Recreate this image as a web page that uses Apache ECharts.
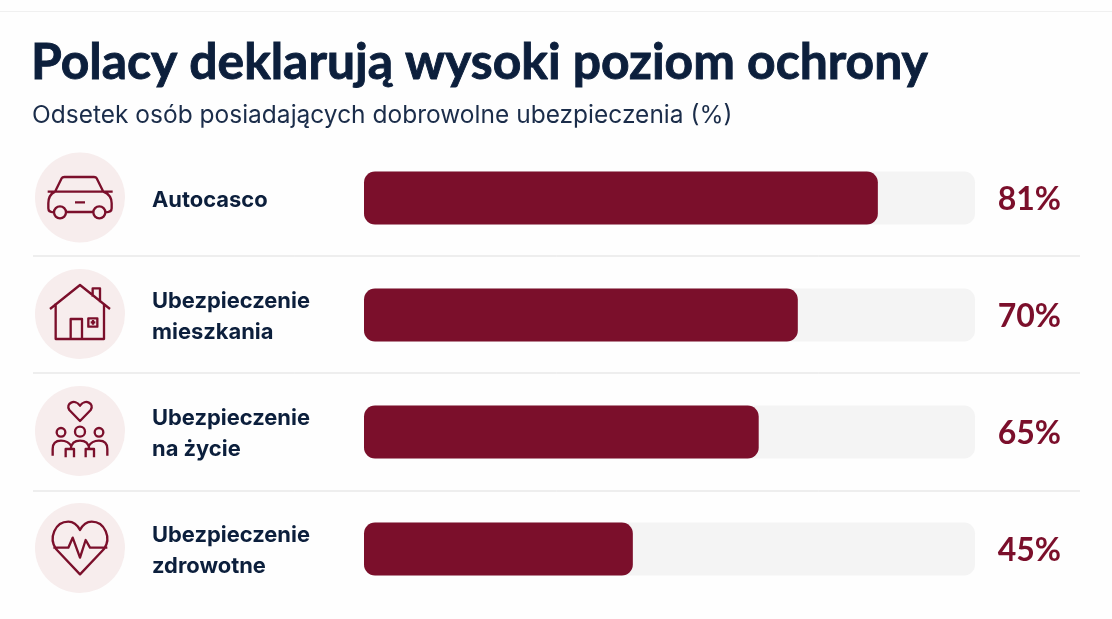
<!DOCTYPE html>
<html><head><meta charset="utf-8">
<style>html,body{margin:0;padding:0;background:#fefefe}#c{width:1112px;height:619px}</style>
<script src="https://cdn.jsdelivr.net/npm/echarts@6/dist/echarts.min.js"></script>
</head><body><div id="c"></div>
<script>
const categories = ['Autocasco', 'Ubezpieczenie\nmieszkania', 'Ubezpieczenie\nna życie', 'Ubezpieczenie\nzdrowotne'];
const percentLabels = [81, 70, 65, 45];
// bar lengths as drawn in the picture, in % of the grey track
const drawnLengths = [84.1, 71, 64.6, 44];
const trackValues = [100, 100, 100, 100];
const titleText = 'Polacy deklarują wysoki poziom ochrony';
const subtitleText = 'Odsetek osób posiadających dobrowolne ubezpieczenia (%)';

const ink = '#0c1f3c', wine = '#7b0f2b', FONT = 'Inter, "Open Sans", sans-serif';
const circle = (x, y, r) => `M${x - r},${y}A${r},${r} 0 1 0 ${x + r},${y}A${r},${r} 0 1 0 ${x - r},${y}Z`;
const icons = [
  {cy: 197.5, ox: 20, oy: 140, d: 'M105,155L125,115Q127,111 133,111H222Q228,111 230,115L250,155M83,155H278M105,155Q85,165 85,190V205Q85,217 101,217M250,155Q275,165 275,190V205Q275,217 257,217M140,216H218M165,187H195' + circle(120, 217, 18) + circle(238, 217, 18)},
  {cy: 314, ox: 20, oy: 140, d: 'M90,507L180,435L270,507M107,490V597H252V490M152,597V537H186V597M205,535H232V560H205ZM212,547H226M219,540V554M218,470V445H240V487'},
  {cy: 431, ox: 20, oy: 375, d: 'M180,138L148,105C135,85 165,70 180,92C195,70 225,85 212,105Z' + circle(123, 172, 13) + circle(180, 170, 15) + circle(237, 172, 13) + 'M98,242V222Q98,197 123,197Q145,197 155,215M152,222Q155,197 180,197Q205,197 208,222M205,215Q215,197 237,197Q262,197 262,222V242M137,247V222H162V247M197,247V222H222V247'},
  {cy: 548, ox: 20, oy: 375, d: 'M180,598L108,522C85,490 105,440 145,440C160,440 172,450 180,465C188,450 200,440 215,440C255,440 275,490 252,522ZM100,518H145L158,488L180,548L197,495L210,518H262'}
];
icons.forEach((ic, i) => echarts.graphic.registerShape('icon' + i, echarts.graphic.extendPath(ic.d, {})));
const graphic = [
  {type: 'line', silent: true, shape: {x1: 0, y1: 11.5, x2: 1112, y2: 11.5}, style: {stroke: '#f0f0f0', lineWidth: 1}},
  {type: 'text', x: 31, y: 63, style: {text: titleText, font: '700 49.8px Lato, sans-serif', fill: ink, stroke: ink, lineWidth: 0.9, textVerticalAlign: 'middle'}},
  {type: 'text', x: 32, y: 116, style: {text: subtitleText, font: `400 24.5px ${FONT}`, fill: '#1b2d4a', textVerticalAlign: 'middle'}},
  ...[256, 373, 491].map(y => ({type: 'line', silent: true, shape: {x1: 33, y1: y, x2: 1080, y2: y}, style: {stroke: '#dedede', lineWidth: 1}})),
  ...icons.flatMap((ic, i) => [
    {type: 'circle', silent: true, shape: {cx: 80, cy: ic.cy, r: 45}, style: {fill: '#f7eded'}},
    {type: 'icon' + i, silent: true, x: ic.ox, y: ic.oy, scaleX: 1 / 3, scaleY: 1 / 3, style: {fill: 'none', stroke: wine, lineWidth: 7, lineJoin: 'round'}}
  ])
];
const chart = echarts.init(document.getElementById('c'), null, {renderer: 'canvas'});
chart.setOption({
  animation: false,
  backgroundColor: '#fefefe',
  graphic,
  grid: {left: 364, width: 611, top: 139.5, height: 468},
  xAxis: {type: 'value', min: 0, max: 100, show: false},
  yAxis: {
    type: 'category', inverse: true, data: categories,
    axisLine: {show: false}, axisTick: {show: false}, splitLine: {show: false}, axisLabel: {show: false}
  },
  series: [
    {type: 'bar', data: trackValues, barWidth: 53, barGap: '-100%', silent: true, z: 1,
      itemStyle: {color: '#f4f4f4', borderRadius: 11},
      label: {show: true, position: 'insideRight', offset: [91, 2], color: wine, fontFamily: 'Lato, sans-serif', fontWeight: 700, fontSize: 32,
        formatter: p => percentLabels[p.dataIndex] + '%'}},
    {type: 'bar', data: drawnLengths, barWidth: 53, barGap: '-100%', silent: true, z: 2,
      itemStyle: {color: wine, borderRadius: 11},
      label: {show: true, position: 'insideLeft', distance: 0, offset: [-212, 2], color: ink, fontFamily: FONT, fontWeight: 700, fontSize: 21.9, lineHeight: 31,
        formatter: p => categories[p.dataIndex]}}
  ]
});
</script></body></html>
